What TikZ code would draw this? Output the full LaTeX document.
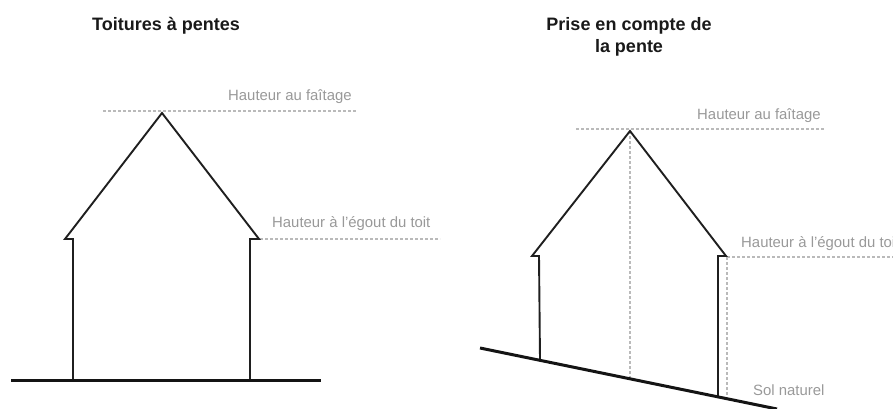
\documentclass[tikz,border=0pt]{standalone}
\usepackage{fontspec}
\setmainfont{Liberation Sans}
\tikzset{
  wall/.style={line width=1.9pt,black!88,line join=miter},
  ground/.style={line width=3pt,black!92},
  guide/.style={line width=1.1pt,black!27,dash pattern=on 3pt off 2pt},
  lab/.style={inner sep=0pt,text=black!40,font=\fontsize{14.9}{17}\selectfont,anchor=west},
  head/.style={inner sep=0pt,text=black!90,font=\bfseries\fontsize{18}{21.7}\selectfont,align=center}
}
\begin{document}
\begin{tikzpicture}[x=1pt,y=-1pt]
\useasboundingbox (0,0) rectangle (893,409);
\node[head] (t1) at (166,25.5) {Toitures à pentes};
\node[head] (t2) at (629,36.5) {Prise en compte de\\la pente};
% left house
\coordinate (a1) at (162,113);
\coordinate (le1) at (65,239);
\coordinate (re1) at (259,239);
\coordinate (lg1) at (73,380);
\coordinate (rg1) at (250,380);
\draw[guide] (103,111) coordinate (g1s) -- (356,111) coordinate (g1e);
\draw[guide] (260,239) coordinate (g2s) -- (440,239) coordinate (g2e);
\draw[wall] (lg1) -- (73,239) -- (le1) -- (a1) -- (re1) -- (250,239) -- (rg1);
\draw[ground] (11,380) coordinate (s1) -- (321,380) coordinate (s2);
\node[lab] (l1) at (228,97) {Hauteur au faîtage};
\node[lab] (l2) at (272,224) {Hauteur à l’égout du toit};
% right house
\coordinate (a2) at (630,131);
\coordinate (le2) at (532,256);
\coordinate (re2) at (726,256);
\coordinate (lg2) at (540,360);
\coordinate (rg2) at (718,397);
\draw[guide] (576,129) coordinate (g3s) -- (824,129) coordinate (g3e);
\draw[guide] (727,257) coordinate (g4s) -- (893,257) coordinate (g4e);
\draw[guide] (a2) -- (630,380) coordinate (v1);
\draw[guide] (g4s) -- (727,398) coordinate (v2);
\draw[wall] (lg2) -- (539,256) -- (le2) -- (a2) -- (re2) -- (718,256) -- (rg2);
\draw[ground] (480,348) coordinate (s3) -- (777,409) coordinate (s4);
\node[lab] (l3) at (697,115.5) {Hauteur au faîtage};
\node[lab] (l4) at (741,244) {Hauteur à l’égout du toit};
\node[lab] (l5) at (753,390) {Sol naturel};
\end{tikzpicture}
\end{document}
